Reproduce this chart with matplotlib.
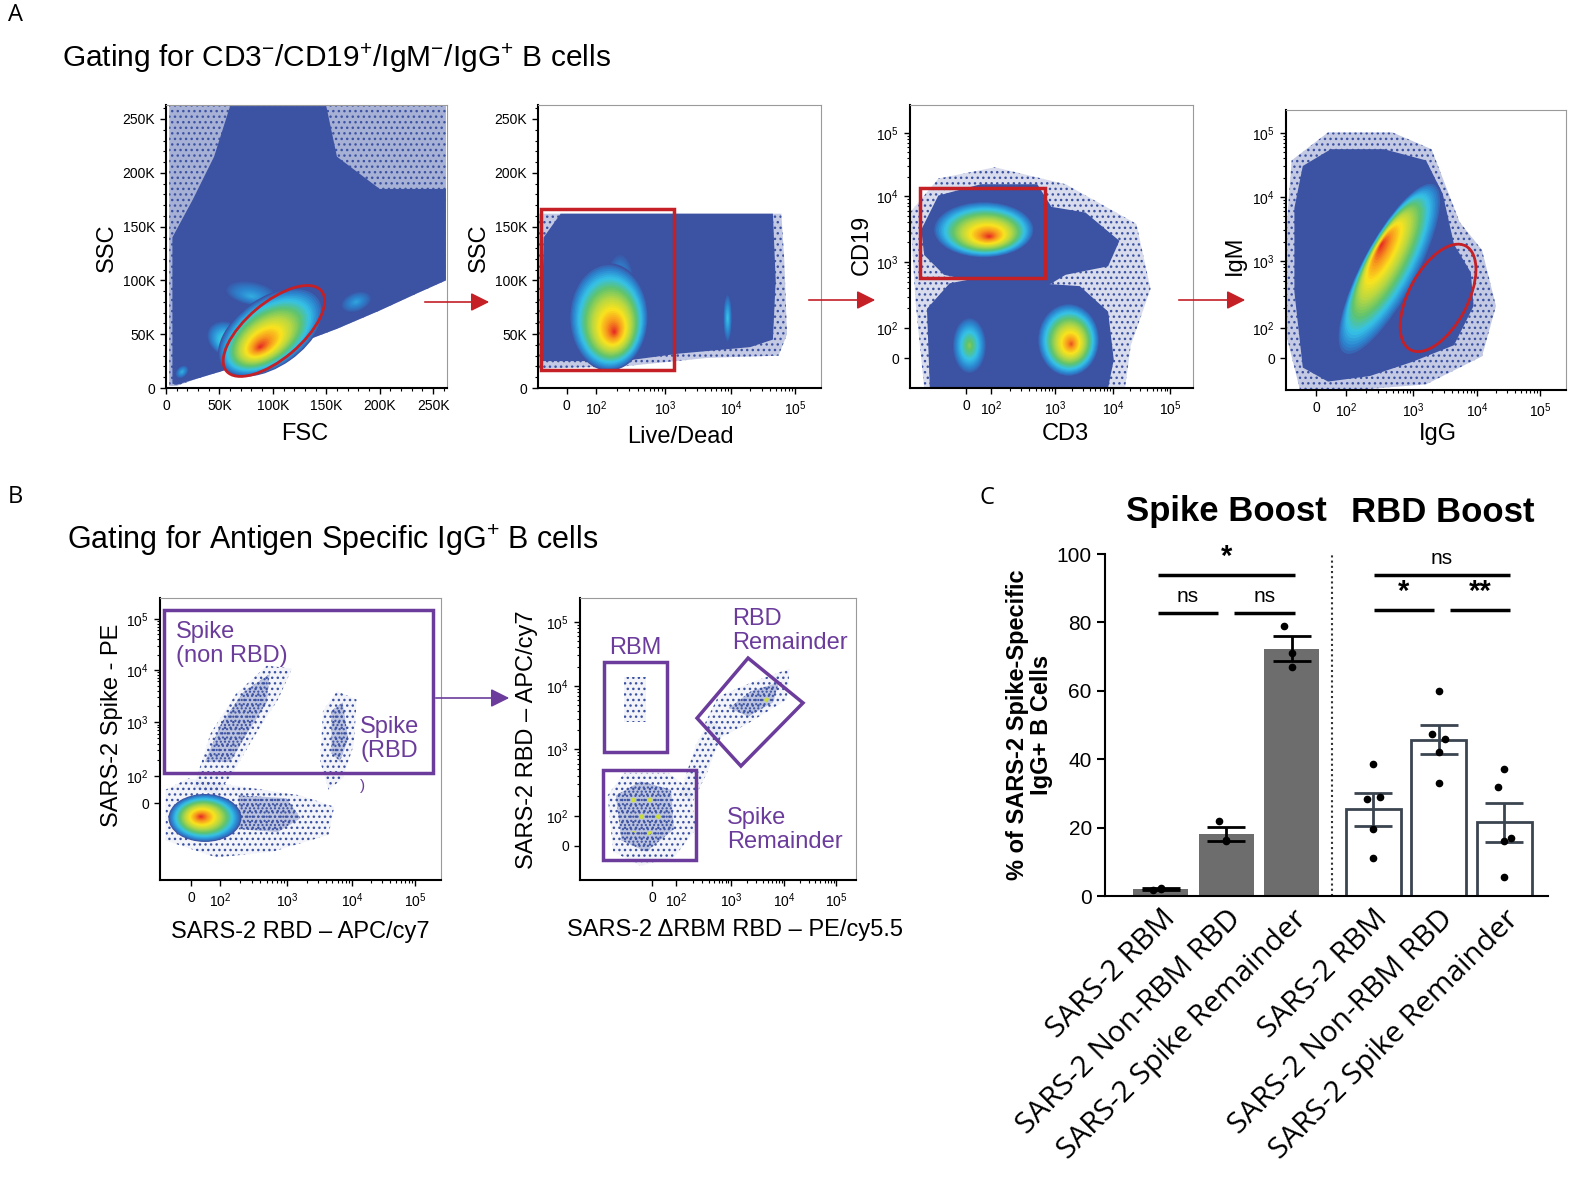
import numpy as np
import matplotlib.pyplot as plt
from matplotlib.colors import LinearSegmentedColormap
from matplotlib.patches import Ellipse, Polygon, Rectangle, FancyArrowPatch

plt.rcParams['font.family'] = ['Liberation Sans', 'DejaVu Sans']
plt.rcParams['mathtext.fontset'] = 'custom'
plt.rcParams['mathtext.rm'] = 'Liberation Sans'
plt.rcParams['mathtext.it'] = 'Liberation Sans:italic'
plt.rcParams['mathtext.bf'] = 'Liberation Sans:bold'
plt.rcParams['hatch.linewidth'] = 1.0

W, H = 1594, 1192

# ---------------- panel C data ----------------
bar_labels = ['SARS-2 RBM', 'SARS-2 Non-RBM RBD', 'SARS-2 Spike Remainder',
              'SARS-2 RBM', 'SARS-2 Non-RBM RBD', 'SARS-2 Spike Remainder']
bar_means = [2.0, 18.2, 72.3, 25.3, 45.7, 21.5]
bar_sem = [0.3, 2.0, 3.7, 4.8, 4.3, 5.7]
spike_points = [[1.8, 2.2, 2.0], [22.0, 16.0, 16.5], [79.0, 71.0, 67.0]]
rbd_points = [[38.5, 28.5, 29.0, 19.5, 11.0],
              [60.0, 47.5, 46.0, 42.0, 33.0],
              [37.0, 32.0, 17.0, 16.0, 5.5]]
# significance bars: (x0, x1, y, label) in bar-axis units
sig_lines = [(-0.05, 2.05, 93.9, '*'), (-0.05, 0.87, 82.7, 'ns'), (1.11, 2.05, 82.7, 'ns'),
             (3.25, 5.33, 93.9, 'ns'), (3.25, 4.17, 83.6, '*'), (4.42, 5.33, 83.6, '**')]

# ---------------- flow cytometry data ----------------
# populations: (cx, cy, width, height, angle, core_x, core_y, peak density 0-1)
LIN_MAX = 263.0   # K, top of the linear FSC / SSC scales
lin_ticks = [0, 50, 100, 150, 200, 250]
lin_labels = ['0', '50K', '100K', '150K', '200K', '250K']
log_labels = ['0', '$10^{2}$', '$10^{3}$', '$10^{4}$', '$10^{5}$']

# A1: FSC vs SSC (K units)
a1_sparse = [(3, 2), (3, 262), (262, 262), (262, 100), (235, 88), (200, 72), (160, 55),
             (120, 40), (90, 28), (60, 18), (30, 9), (10, 2)]
a1_dense = [(6, 4), (6, 140), (25, 175), (45, 215), (60, 262), (150, 262), (160, 215),
            (200, 185), (262, 185), (262, 100), (235, 88), (200, 72), (160, 55),
            (120, 40), (90, 28), (60, 18), (30, 9), (10, 3)]
a1_pops = [(15, 15, 14, 10, 45, 15, 15, 0.25),
           (80, 88, 22, 50, 80, 80, 85, 0.24),
           (178, 80, 30, 18, 20, 178, 80, 0.22),
           (58, 45, 32, 42, 60, 58, 42, 0.45),
           (98, 52, 112, 64, 35, 88, 38, 1.0)]
a1_gate = (101, 53, 116, 52, 40)

# A2: Live/Dead vs SSC (x display fraction, y K)
a2_xticks = [0.102, 0.205, 0.449, 0.682, 0.908]
a2_sparse = [(0.0, 18), (0.0, 162), (0.86, 162), (0.87, 120), (0.88, 50), (0.85, 30),
             (0.6, 28), (0.3, 20)]
a2_dense = [(0.01, 25), (0.02, 140), (0.08, 162), (0.83, 162), (0.84, 100), (0.83, 45),
            (0.75, 38), (0.5, 32), (0.3, 25)]
a2_pops = [(0.67, 65, 0.03, 45, 0, 0.67, 65, 0.3),
           (0.29, 95, 0.10, 60, 0, 0.29, 90, 0.3),
           (0.25, 66, 0.28, 100, 0, 0.27, 52, 1.0)]
a2_gate = (0.011, 17, 0.48, 166)

# A3: CD3 vs CD19 (display fractions)
a3_xticks = [0.198, 0.286, 0.512, 0.717, 0.919]
a3_yticks = [0.106, 0.212, 0.445, 0.678, 0.901]
a3_sparse = [(0.02, 0.3), (0.0, 0.62), (0.1, 0.74), (0.3, 0.78), (0.55, 0.72), (0.8, 0.58),
             (0.85, 0.35), (0.78, 0.15), (0.76, 0.0), (0.05, 0.0)]
a3_dense_top = [(0.04, 0.56), (0.1, 0.68), (0.25, 0.72), (0.45, 0.72), (0.5, 0.64),
                (0.62, 0.62), (0.74, 0.52), (0.7, 0.43), (0.55, 0.4), (0.45, 0.34),
                (0.3, 0.36), (0.12, 0.4), (0.05, 0.47)]
a3_dense_bottom = [(0.07, 0.0), (0.06, 0.28), (0.14, 0.37), (0.3, 0.40), (0.45, 0.37),
                   (0.6, 0.36), (0.7, 0.27), (0.72, 0.10), (0.7, 0.0)]
a3_pops = [(0.21, 0.15, 0.12, 0.2, 0, 0.21, 0.15, 0.5),
           (0.56, 0.17, 0.22, 0.26, 0, 0.57, 0.155, 0.95),
           (0.26, 0.56, 0.36, 0.2, 0, 0.28, 0.535, 1.0)]
a3_gate = (0.035, 0.389, 0.477, 0.707)

# A4: IgG vs IgM (display fractions)
a4_xticks = [0.107, 0.214, 0.454, 0.682, 0.907]
a4_yticks = [0.114, 0.221, 0.461, 0.689, 0.918]
a4_sparse = [(0.0, 0.55), (0.02, 0.82), (0.15, 0.92), (0.38, 0.92), (0.52, 0.86),
             (0.62, 0.6), (0.7, 0.5), (0.75, 0.3), (0.7, 0.12), (0.5, 0.02), (0.25, 0.0),
             (0.05, 0.0), (0.0, 0.2)]
a4_dense = [(0.03, 0.65), (0.06, 0.80), (0.16, 0.86), (0.35, 0.86), (0.5, 0.82),
            (0.56, 0.70), (0.6, 0.52), (0.66, 0.42), (0.67, 0.30), (0.6, 0.16),
            (0.45, 0.10), (0.30, 0.05), (0.15, 0.03), (0.06, 0.08), (0.03, 0.35)]
a4_pops = [(0.37, 0.43, 0.70, 0.2, 62, 0.34, 0.52, 1.0)]
a4_gate = (0.543, 0.329, 0.42, 0.21, 62)

# B1: RBD vs Spike (display fractions)
b1_xticks = [0.110, 0.214, 0.452, 0.683, 0.907]
b1_yticks = [0.273, 0.369, 0.560, 0.745, 0.926]
b1_sparse = [[(0.02, 0.14), (0.02, 0.32), (0.1, 0.36), (0.3, 0.33), (0.5, 0.30), (0.62, 0.26),
              (0.6, 0.16), (0.4, 0.10), (0.2, 0.08)],
             [(0.12, 0.33), (0.18, 0.52), (0.27, 0.66), (0.38, 0.76), (0.47, 0.75),
              (0.42, 0.64), (0.33, 0.5), (0.26, 0.38), (0.2, 0.3)],
             [(0.57, 0.42), (0.58, 0.6), (0.63, 0.67), (0.7, 0.64), (0.69, 0.48),
              (0.65, 0.36), (0.6, 0.32)]]
b1_dense = [[(0.16, 0.42), (0.22, 0.56), (0.3, 0.67), (0.39, 0.73), (0.38, 0.63),
             (0.31, 0.52), (0.25, 0.42)],
            [(0.61, 0.45), (0.61, 0.6), (0.65, 0.63), (0.67, 0.5), (0.64, 0.42)],
            [(0.28, 0.18), (0.28, 0.3), (0.45, 0.29), (0.5, 0.22), (0.42, 0.17)]]
b1_pops = [(0.16, 0.22, 0.26, 0.17, 0, 0.145, 0.225, 1.0)]
b1_gate = (0.014, 0.379, 0.972, 0.957)

# B2: dRBM RBD vs RBD (display fractions)
b2_xticks = [0.261, 0.348, 0.547, 0.739, 0.928]
b2_yticks = [0.121, 0.227, 0.465, 0.688, 0.915]
b2_sparse = [[(0.12, 0.10), (0.10, 0.30), (0.16, 0.38), (0.32, 0.38), (0.40, 0.32),
              (0.42, 0.18), (0.34, 0.08), (0.22, 0.05)],
             [(0.36, 0.30), (0.42, 0.48), (0.47, 0.57), (0.52, 0.53), (0.46, 0.38), (0.41, 0.28)],
             [(0.45, 0.55), (0.5, 0.65), (0.62, 0.70), (0.76, 0.75), (0.75, 0.64), (0.6, 0.55),
              (0.5, 0.5)],
             [(0.16, 0.56), (0.16, 0.72), (0.24, 0.72), (0.24, 0.56)]]
b2_dense = [[(0.54, 0.61), (0.62, 0.67), (0.72, 0.70), (0.70, 0.63), (0.61, 0.58)],
            [(0.15, 0.14), (0.13, 0.30), (0.22, 0.35), (0.33, 0.32), (0.34, 0.18), (0.24, 0.10)]]
b2_bright = [[(0.62, 0.62), (0.66, 0.67), (0.70, 0.66), (0.66, 0.61)],
             [(0.17, 0.18), (0.17, 0.30), (0.27, 0.32), (0.30, 0.2), (0.24, 0.15)]]
b2_gates_rect = [(0.087, 0.454, 0.315, 0.773), (0.083, 0.071, 0.42, 0.39)]
b2_gate_diamond = [(0.609, 0.787), (0.808, 0.628), (0.583, 0.404), (0.424, 0.574)]

# ---------------- drawing ----------------
BLUE = '#3c52a3'
RED = '#c42026'
PURPLE = '#6b3c9b'
jet = LinearSegmentedColormap.from_list('flow', ['#3c52a3', '#2c86d0', '#35c2e8', '#5fc36d',
                                                 '#b6d743', '#fbe41d', '#f7941d', '#e41f25'])

fig = plt.figure(figsize=(W / 100, H / 100), dpi=100)


def px_axes(x0, y0, x1, y1):
    return fig.add_axes([x0 / W, 1 - y1 / H, (x1 - x0) / W, (y1 - y0) / H])


def fx(x):
    return x / W


def fy(y):
    return 1 - y / H


def minor_log(major):
    out = []
    for a, b in zip(major[1:-1], major[2:]):
        out += [a + (b - a) * np.log10(k) for k in range(2, 10)]
    return out


def flow_axes(box, xt, xl, yt, yl, xminor, yminor):
    ax = px_axes(*box)
    ax.set_xlim(0, 1)
    ax.set_ylim(0, 1)
    ax.set_xticks(xt)
    ax.set_xticklabels(xl, fontsize=10)
    ax.set_yticks(yt)
    ax.set_yticklabels(yl, fontsize=10)
    ax.set_xticks(xminor, minor=True)
    ax.set_yticks(yminor, minor=True)
    ax.tick_params(direction='out', length=4, width=1, pad=4)
    ax.tick_params(which='minor', direction='out', length=2.5, width=0.8)
    for s in ['left', 'bottom']:
        ax.spines[s].set_linewidth(1.5)
    for s in ['top', 'right']:
        ax.spines[s].set_color('#9a9a9a')
        ax.spines[s].set_linewidth(0.8)
    return ax


def draw_cloud(ax, verts, sx=1.0, sy=1.0, sparse=False, fill=0.12, hatch='...', color=BLUE, z=1):
    pts = [(x * sx, y * sy) for x, y in verts]
    if sparse:
        ax.add_patch(Polygon(pts, closed=True, facecolor=(0.24, 0.32, 0.64, fill),
                             edgecolor=color, hatch=hatch, lw=0, zorder=z))
    else:
        ax.add_patch(Polygon(pts, closed=True, facecolor=BLUE, lw=0, zorder=1.5))


def draw_pop(ax, pop, sx=1.0, sy=1.0, steps=36):
    cx, cy, w, h, ang, kx, ky, peak = pop
    for k in range(steps):
        t = k / steps
        s = 1 - t
        ax.add_patch(Ellipse(((cx + (kx - cx) * t) * sx, (cy + (ky - cy) * t) * sy),
                             w * s * sx, h * s * sy, angle=ang, color=jet(peak * t ** 0.8),
                             lw=0, zorder=2))


lin_pos = [v / LIN_MAX for v in lin_ticks]
lin_minor = [v / LIN_MAX for v in range(0, 261, 10)]

# ---- A1 ----
ax = flow_axes((166, 105, 447, 388), lin_pos, lin_labels, lin_pos, lin_labels, lin_minor, lin_minor)
draw_cloud(ax, a1_sparse, 1 / LIN_MAX, 1 / LIN_MAX, sparse=True, fill=0.45)
draw_cloud(ax, a1_dense, 1 / LIN_MAX, 1 / LIN_MAX)
for p in a1_pops:
    draw_pop(ax, p, 1 / LIN_MAX, 1 / LIN_MAX)
gx, gy, gw, gh, ga = a1_gate
ax.add_patch(Ellipse((gx / LIN_MAX, gy / LIN_MAX), gw / LIN_MAX, gh / LIN_MAX, angle=ga,
                     fill=False, ec=RED, lw=2, zorder=5))

# ---- A2 ----
ax = flow_axes((538, 105, 821, 388), a2_xticks, log_labels, lin_pos, lin_labels,
               minor_log(a2_xticks), lin_minor)
draw_cloud(ax, a2_sparse, 1, 1 / LIN_MAX, sparse=True, fill=0.3)
draw_cloud(ax, a2_dense, 1, 1 / LIN_MAX)
for p in a2_pops:
    draw_pop(ax, p, 1, 1 / LIN_MAX)
x0, y0, x1, y1 = a2_gate
ax.add_patch(Rectangle((x0, y0 / LIN_MAX), x1 - x0, (y1 - y0) / LIN_MAX, fill=False,
                       ec=RED, lw=2.5, zorder=5))

# ---- A3 ----
ax = flow_axes((910, 105, 1193, 388), a3_xticks, log_labels, a3_yticks, log_labels,
               minor_log(a3_xticks), minor_log(a3_yticks))
draw_cloud(ax, a3_sparse, sparse=True, fill=0.2)
draw_cloud(ax, a3_dense_top)
draw_cloud(ax, a3_dense_bottom)
for p in a3_pops:
    draw_pop(ax, p)
x0, y0, x1, y1 = a3_gate
ax.add_patch(Rectangle((x0, y0), x1 - x0, y1 - y0, fill=False, ec=RED, lw=2.5, zorder=5))

# ---- A4 ----
ax = flow_axes((1286, 110, 1566, 390), a4_xticks, log_labels, a4_yticks, log_labels,
               minor_log(a4_xticks), minor_log(a4_yticks))
draw_cloud(ax, a4_sparse, sparse=True, fill=0.3)
draw_cloud(ax, a4_dense)
for p in a4_pops:
    draw_pop(ax, p)
gx, gy, gw, gh, ga = a4_gate
ax.add_patch(Ellipse((gx, gy), gw, gh, angle=ga, fill=False, ec=RED, lw=2, zorder=5))

# ---- B1 ----
ax = flow_axes((160, 598, 441, 880), b1_xticks, log_labels, b1_yticks, log_labels,
               minor_log(b1_xticks), minor_log(b1_yticks))
for v in b1_sparse:
    draw_cloud(ax, v, sparse=True, fill=0.06)
for v in b1_dense:
    draw_cloud(ax, v, sparse=True, fill=0.3, hatch='....', z=1.5)
for p in b1_pops:
    draw_pop(ax, p)
x0, y0, x1, y1 = b1_gate
ax.add_patch(Rectangle((x0, y0), x1 - x0, y1 - y0, fill=False, ec=PURPLE, lw=2.5, zorder=5))

# ---- B2 ----
ax = flow_axes((580, 598, 856, 880), b2_xticks, log_labels, b2_yticks, log_labels,
               minor_log(b2_xticks), minor_log(b2_yticks))
for v in b2_sparse:
    draw_cloud(ax, v, sparse=True, fill=0.06)
for v in b2_dense:
    draw_cloud(ax, v, sparse=True, fill=0.3, hatch='....', z=1.5)
for v in b2_bright:
    draw_cloud(ax, v, sparse=True, fill=0.0, hatch='.', color='#c8dc3c', z=2)
for x0, y0, x1, y1 in b2_gates_rect:
    ax.add_patch(Rectangle((x0, y0), x1 - x0, y1 - y0, fill=False, ec=PURPLE, lw=2.5, zorder=5))
ax.add_patch(Polygon(b2_gate_diamond, closed=True, fill=False, ec=PURPLE, lw=2.5, zorder=5))

# ---- flow labels, titles, arrows ----
for lab, x, y in [('A', 8, 15), ('B', 8, 497), ('C', 980, 498)]:
    fig.text(fx(x), fy(y), lab, fontsize=17, va='center', family='Open Sans')
fig.text(fx(62), fy(58), 'Gating for CD3$^{-}$/CD19$^{+}$/IgM$^{-}$/IgG$^{+}$ B cells',
         fontsize=21.5, va='center')
fig.text(fx(67), fy(540), 'Gating for Antigen Specific IgG$^{+}$ B cells', fontsize=22,
         va='center')

for txt, x, y in [('FSC', 305, 434), ('Live/Dead', 680, 437), ('CD3', 1065, 434),
                  ('IgG', 1438, 434), ('SARS-2 RBD – APC/cy7', 300, 932),
                  ('SARS-2 ΔRBM RBD – PE/cy5.5', 735, 930)]:
    fig.text(fx(x), fy(y), txt, fontsize=17, ha='center', va='center')
for txt, x, y in [('SSC', 107, 248), ('SSC', 479, 248), ('CD19', 862, 245), ('IgM', 1235, 255),
                  ('SARS-2 Spike - PE', 112, 725), ('SARS-2 RBD – APC/cy7', 527, 740)]:
    fig.text(fx(x), fy(y), txt, fontsize=17, ha='center', va='center', rotation=90)

for x0, x1, y in [(422, 492, 302), (806, 878, 300), (1176, 1248, 300)]:
    fig.add_artist(FancyArrowPatch((fx(x0), fy(y)), (fx(x1), fy(y)), transform=fig.transFigure,
                                   arrowstyle='-|>', mutation_scale=28, color=RED, lw=1.2))
fig.add_artist(FancyArrowPatch((fx(433), fy(698)), (fx(512), fy(698)), transform=fig.transFigure,
                               arrowstyle='-|>', mutation_scale=28, color=PURPLE, lw=1.2))

for txt, x, y, ha in [('Spike\n(non RBD)', 176, 644, 'left'), ('Spike\n(RBD', 360, 739, 'left'),
                      ('RBM', 635, 648, 'center'), ('RBD\nRemainder', 732, 631, 'left'),
                      ('Spike\nRemainder', 727, 830, 'left')]:
    fig.text(fx(x), fy(y), txt, fontsize=17, color=PURPLE, ha=ha, va='center', linespacing=1.1)
fig.text(fx(363), fy(786), ')', fontsize=11, color=PURPLE, ha='center', va='center')

# ---------------- panel C ----------------
pos = np.array([0, 1, 2, 3.24, 4.24, 5.24])
axc = px_axes(1105, 554, 1548, 896)
axc.set_xlim(-0.855, 5.91)
axc.set_ylim(0, 100)
axc.bar(pos[:3], bar_means[:3], width=0.84, color='#6d6d6d', zorder=2)
axc.bar(pos[3:], bar_means[3:], width=0.84, facecolor='white', edgecolor='#3b4550', lw=2, zorder=2)
axc.errorbar(pos[:3], bar_means[:3], yerr=bar_sem[:3], fmt='none', ecolor='black',
             capsize=14, elinewidth=2, capthick=2, zorder=3)
axc.errorbar(pos[3:], bar_means[3:], yerr=bar_sem[3:], fmt='none', ecolor='#3b4550',
             capsize=14, elinewidth=2, capthick=2, zorder=3)
jit3 = [-0.12, 0.0, 0.0]
jit5 = [0.0, -0.1, 0.1, 0.0, 0.0]
for p, vals in zip(pos[:3], spike_points):
    axc.plot([p + j for j in jit3], vals, 'o', color='black', ms=4.5, zorder=4)
for p, vals in zip(pos[3:], rbd_points):
    axc.plot([p + j for j in jit5], vals, 'o', color='black', ms=4.5, zorder=4)
axc.axvline(2.61, color='#333333', lw=1.5, ls=(0, (1, 1.5)), zorder=1)

for x0, x1, y, lab in sig_lines:
    axc.plot([x0, x1], [y, y], color='black', lw=2.5, clip_on=False, solid_capstyle='butt')
    if '*' in lab:
        axc.text((x0 + x1) / 2, y + 1.2, lab, fontsize=21, fontweight='bold', ha='center',
                 va='bottom', clip_on=False)
    else:
        axc.text((x0 + x1) / 2, y + 2.0, lab, fontsize=15, ha='center', va='bottom', clip_on=False)

axc.spines['top'].set_visible(False)
axc.spines['right'].set_visible(False)
axc.spines['left'].set_linewidth(1.5)
axc.spines['bottom'].set_linewidth(1.5)
axc.set_yticks([0, 20, 40, 60, 80, 100])
axc.tick_params(axis='y', labelsize=15, length=6, width=1.5)
axc.set_xticks(pos)
axc.set_xticklabels(bar_labels, rotation=45, ha='right', rotation_mode='anchor', fontsize=21.5,
                    family='Open Sans')
axc.tick_params(axis='x', length=0, pad=6)
axc.set_ylabel('% of SARS-2 Spike-Specific\nIgG+ B Cells', fontsize=17, fontweight='bold',
               linespacing=1.05, labelpad=3)

fig.text(fx(1226), fy(512), 'Spike Boost', fontsize=25, fontweight='bold', ha='center', va='center')
fig.text(fx(1443), fy(512), 'RBD Boost', fontsize=25, fontweight='bold', ha='center', va='center')

fig.savefig('out.png', dpi=100)
